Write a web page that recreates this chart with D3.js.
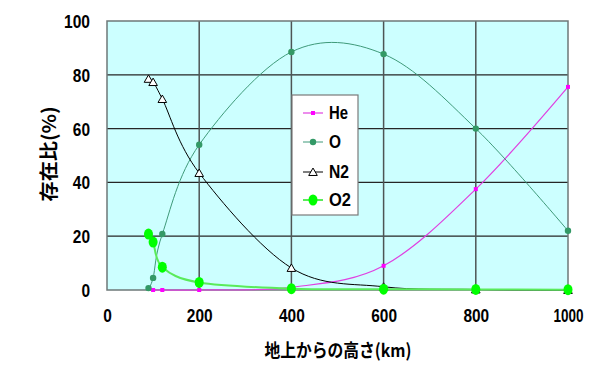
<!DOCTYPE html>
<html><head><meta charset="utf-8">
<script src="https://cdn.jsdelivr.net/npm/d3@7"></script>
<style>html,body{margin:0;padding:0;background:#fff;}</style>
</head><body>
<svg id="c" width="600" height="369"></svg>
<script>
// ---- data ----
const xTicks = [0, 200, 400, 600, 800, 1000];
const yTicks = [0, 20, 40, 60, 80, 100];
const seriesNames = ["He", "O", "N2", "O2"];
const heAlt = [100, 120, 200, 400, 600, 800, 1000];
const heVal = [0, 0, 0, 1, 9, 37.5, 75.5];
const oAlt = [90, 100, 120, 200, 400, 600, 800, 1000];
const oVal = [0.7, 4.5, 20.8, 54, 88.5, 87.7, 60, 22];
const n2Alt = [90, 100, 120, 200, 400, 600, 800, 1000];
const n2Val = [78.5, 77.3, 71, 43.5, 8.2, 1.2, 0.2, 0];
const o2Alt = [90, 100, 120, 200, 400, 600, 800, 1000];
const o2Val = [20.8, 17.8, 8.5, 2.8, 0.5, 0.3, 0.2, 0.1];
const xTitle = "地上からの高さ(km)";
const yTitle = "存在比(%)";

const svg = d3.select("#c");
const L = 107, R = 568, T = 21, B = 290;
const x = d3.scaleLinear().domain([0, 1000]).range([L, R]);
const y = d3.scaleLinear().domain([0, 100]).range([B, T]);

// plot background
svg.append("rect").attr("x", L).attr("y", T).attr("width", R - L).attr("height", B - T)
  .attr("fill", "#ccffff");

// gridlines
svg.append("g").selectAll("line").data(yTicks.slice(1, -1)).join("line")
  .attr("x1", L).attr("x2", R).attr("y1", d => y(d)).attr("y2", d => y(d))
  .attr("stroke", "#262626").attr("stroke-width", 1.3);
svg.append("g").selectAll("line").data(xTicks.slice(1, -1)).join("line")
  .attr("y1", T).attr("y2", B).attr("x1", d => x(d)).attr("x2", d => x(d))
  .attr("stroke", "#4d5555").attr("stroke-width", 1.5);
svg.append("rect").attr("x", L).attr("y", T).attr("width", R - L).attr("height", B - T)
  .attr("fill", "none").attr("stroke", "#6e7878").attr("stroke-width", 1.5);

// tick labels via axes
const font = "'Liberation Sans', Arial, sans-serif";
const digitW = s => s === "1000" ? 30 : s === "100" ? 26 : 8.6 * s.length;
const yAxis = svg.append("g").attr("transform", `translate(${L},0)`)
  .call(d3.axisLeft(y).tickValues(yTicks).tickFormat(d3.format("d")).tickSize(0).tickPadding(17));
const xAxis = svg.append("g").attr("transform", `translate(0,${B})`)
  .call(d3.axisBottom(x).tickValues(xTicks).tickFormat(d3.format("d")).tickSize(0).tickPadding(0));
[yAxis, xAxis].forEach(a => {
  a.select(".domain").remove();
  a.selectAll("text").attr("font-family", font).attr("font-size", 18).attr("font-weight", "bold")
    .attr("fill", "#000")
    .attr("textLength", function () { return digitW(this.textContent); })
    .attr("lengthAdjust", "spacingAndGlyphs");
});
yAxis.selectAll("text").attr("dy", "0.36em");
xAxis.selectAll("text").attr("y", 32).attr("dy", 0);

// axis titles
const cjk = "'Noto Sans CJK JP', 'Noto Sans CJK SC', sans-serif";
svg.append("text").attr("x", 338).attr("y", 349).attr("text-anchor", "middle")
  .attr("dominant-baseline", "central").attr("font-family", cjk).attr("font-size", 18)
  .attr("font-weight", "bold")
  .attr("textLength", 147).attr("lengthAdjust", "spacingAndGlyphs").text(xTitle);
svg.append("text").attr("transform", "translate(47,154) rotate(-90)")
  .attr("text-anchor", "middle").attr("dominant-baseline", "central")
  .attr("font-family", cjk).attr("font-size", 19).attr("font-weight", "bold")
  .attr("textLength", 95).attr("lengthAdjust", "spacingAndGlyphs").text(yTitle);

// series
const curve = d3.curveCardinal.tension(0);
const line = d3.line().x(d => x(d[0])).y(d => y(d[1])).curve(curve);
const zip = (a, b) => a.map((v, i) => [v, b[i]]);

const styles = {
  He: { data: zip(heAlt, heVal), stroke: "#e040e0", width: 1.2, marker: "square", fill: "#ff00ff", size: 4 },
  O: { data: zip(oAlt, oVal), stroke: "#3f9a7a", width: 1, marker: "circle", fill: "#339966", size: 3.2 },
  N2: { data: zip(n2Alt, n2Val), stroke: "#000", width: 1, marker: "triangle", fill: "#fff", size: 32 },
  O2: { data: zip(o2Alt, o2Val), stroke: "#5aeb5a", width: 2, marker: "big", fill: "#00ff00", size: 5 }
};

function drawMarker(g, type, st, cx, cy) {
  if (type === "square") {
    g.append("rect").attr("x", cx - st.size / 2).attr("y", cy - st.size / 2)
      .attr("width", st.size).attr("height", st.size).attr("fill", st.fill);
  } else if (type === "circle") {
    g.append("circle").attr("cx", cx).attr("cy", cy).attr("r", st.size).attr("fill", st.fill);
  } else if (type === "triangle") {
    g.append("path").attr("d", d3.symbol(d3.symbolTriangle, st.size)())
      .attr("transform", `translate(${cx},${cy + 1})`).attr("fill", st.fill)
      .attr("stroke", "#000").attr("stroke-width", 1);
  } else {
    g.append("ellipse").attr("cx", cx).attr("cy", cy).attr("rx", 4.5).attr("ry", 5.5).attr("fill", st.fill);
  }
}

seriesNames.forEach(name => {
  const st = styles[name];
  const g = svg.append("g");
  g.append("path").attr("d", line(st.data)).attr("fill", "none")
    .attr("stroke", st.stroke).attr("stroke-width", st.width);
  st.data.forEach(d => drawMarker(g, st.marker, st, x(d[0]), y(d[1])));
});

// legend
const lg = svg.append("g");
lg.append("rect").attr("x", 292).attr("y", 95).attr("width", 66).attr("height", 120)
  .attr("fill", "#fff").attr("stroke", "#7a7a7a").attr("stroke-width", 1.2);
const legY = [113, 142, 172, 200];
const legW = { He: 19, O: 12, N2: 20, O2: 22 };
seriesNames.forEach((name, i) => {
  const st = styles[name];
  const yy = legY[i];
  lg.append("line").attr("x1", 303).attr("x2", 323).attr("y1", yy).attr("y2", yy)
    .attr("stroke", st.stroke).attr("stroke-width", st.width);
  drawMarker(lg, st.marker, st, 313, yy);
  lg.append("text").attr("x", 329).attr("y", yy).attr("dy", "0.36em")
    .attr("font-family", font).attr("font-size", 18).attr("font-weight", "bold")
    .attr("textLength", legW[name]).attr("lengthAdjust", "spacingAndGlyphs").text(name);
});
</script>
</body></html>
